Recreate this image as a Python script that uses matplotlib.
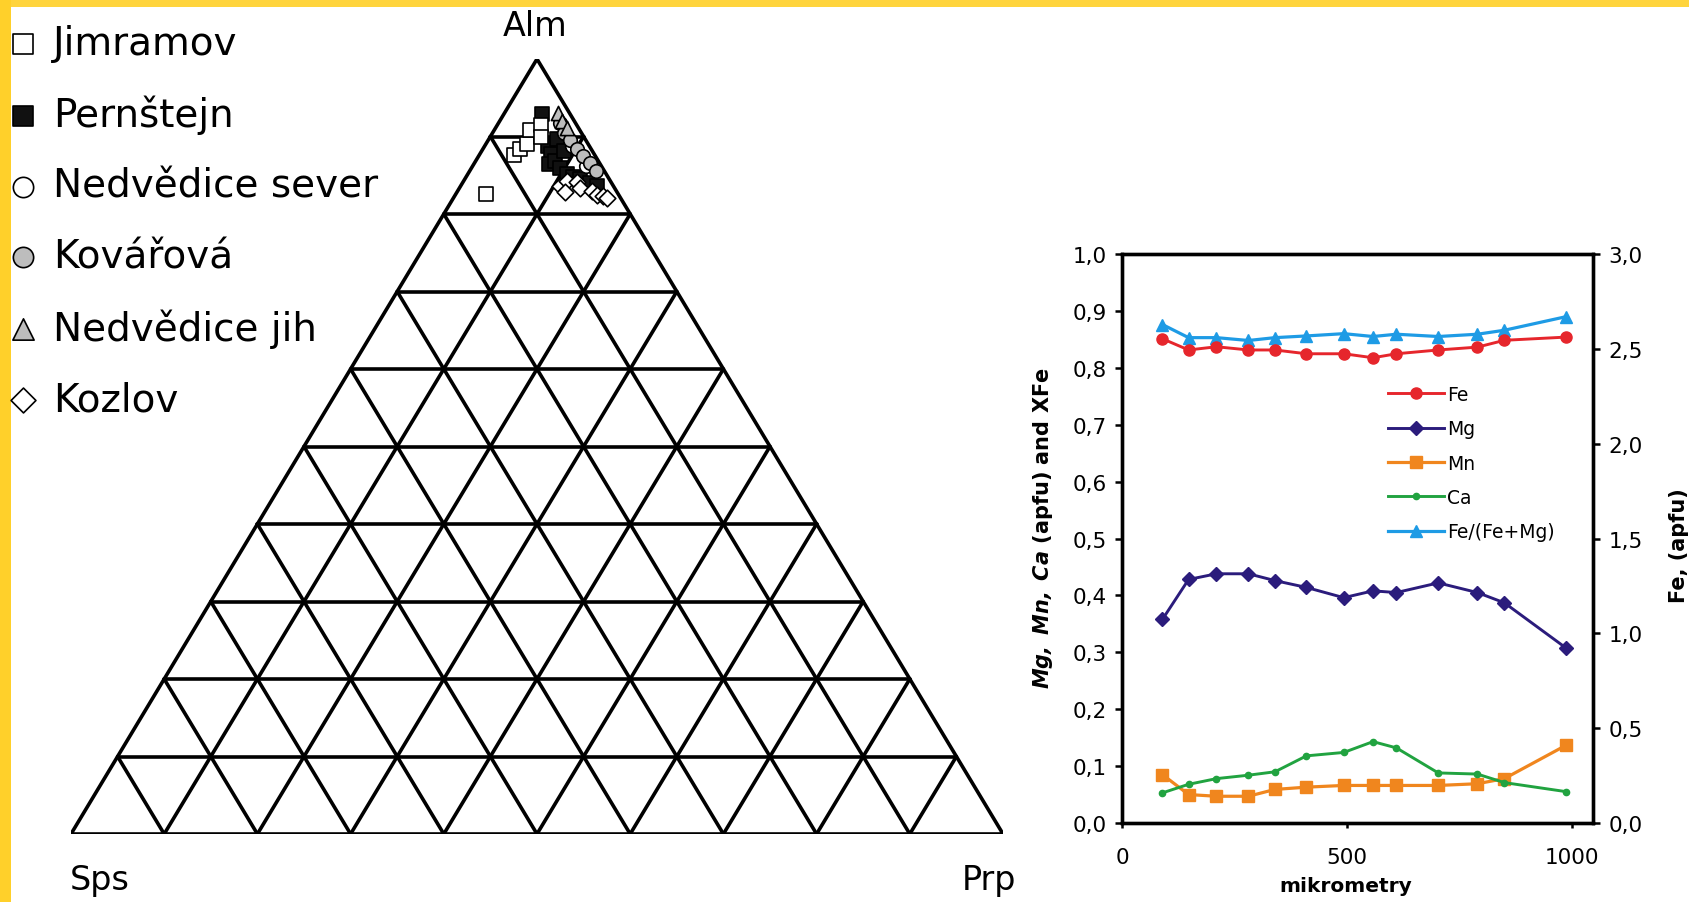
import matplotlib
matplotlib.use('Agg')
import matplotlib.pyplot as plt
from matplotlib.ticker import FuncFormatter, FixedLocator
from matplotlib.patches import Rectangle

plt.rcParams['font.family'] = ['DejaVu Sans']

# ---------------- Ternary data (mol. %) ----------------
jim_alm = [82.6, 87.6, 88.4, 89.0, 90.8, 91.5, 89.9]
jim_prp = [3.2, 3.7, 4.0, 4.4, 3.9, 4.7, 5.5]
jim_sps = [14.2, 8.7, 7.6, 6.6, 5.3, 3.8, 4.6]

per_alm = [92.9, 88.8, 87.7, 86.5, 86.8, 89.7, 85.9, 85.2, 84.8, 84.5, 84.0, 83.6, 88.1]
per_prp = [4.1, 6.8, 7.7, 8.0, 8.5, 7.3, 9.5, 10.6, 11.5, 12.4, 13.7, 14.6, 8.9]
per_sps = [3.0, 4.4, 4.6, 5.5, 4.7, 3.0, 4.6, 4.2, 3.7, 3.1, 2.3, 1.8, 3.0]

nsev_alm = [88.8, 86.2]
nsev_prp = [9.4, 12.2]
nsev_sps = [1.8, 1.6]

kov_alm = [91.7, 90.5, 89.5, 88.4, 87.5, 86.6, 85.6]
kov_prp = [6.6, 7.6, 8.8, 10.1, 11.2, 12.4, 13.5]
kov_sps = [1.7, 1.9, 1.7, 1.5, 1.3, 1.0, 0.9]

njih_alm = [93.0, 92.0, 91.1]
njih_prp = [5.8, 6.7, 7.7]
njih_sps = [1.2, 1.3, 1.2]

koz_alm = [83.6, 84.3, 82.8, 84.1, 83.4, 83.0, 82.5, 82.3, 82.1]
koz_prp = [10.7, 11.1, 11.6, 12.2, 12.9, 14.4, 15.2, 15.9, 16.5]
koz_sps = [5.7, 4.6, 5.6, 3.7, 3.7, 2.6, 2.3, 1.8, 1.4]

locality_labels = ["Jimramov", "Pernštejn", "Nedvědice sever", "Kovářová",
                   "Nedvědice jih", "Kozlov"]
corner_labels = ["Alm", "Sps", "Prp"]

# ---------------- Profile data ----------------
dist_um = [90, 148, 210, 281, 340, 410, 493, 558, 610, 703, 790, 850, 988]
fe_apfu = [2.553, 2.494, 2.511, 2.494, 2.494, 2.474, 2.474, 2.453, 2.474, 2.494, 2.509, 2.545, 2.562]
mg_apfu = [0.358, 0.428, 0.438, 0.438, 0.426, 0.414, 0.396, 0.408, 0.405, 0.422, 0.405, 0.387, 0.307]
mn_apfu = [0.085, 0.050, 0.047, 0.047, 0.059, 0.063, 0.066, 0.066, 0.066, 0.066, 0.069, 0.078, 0.137]
ca_apfu = [0.053, 0.068, 0.078, 0.084, 0.090, 0.118, 0.124, 0.143, 0.132, 0.088, 0.086, 0.071, 0.055]
xfe = [0.876, 0.853, 0.853, 0.848, 0.853, 0.856, 0.860, 0.855, 0.859, 0.855, 0.859, 0.866, 0.890]

profile_labels = ["Fe", "Mg", "Mn", "Ca", "Fe/(Fe+Mg)"]
left_ticks = [0.0, 0.1, 0.2, 0.3, 0.4, 0.5, 0.6, 0.7, 0.8, 0.9, 1.0]
right_ticks = [0.0, 0.5, 1.0, 1.5, 2.0, 2.5, 3.0]
x_ticks = [0, 500, 1000]

W, H = 1689, 903
fig = plt.figure(figsize=(W / 100, H / 100), dpi=100)
fig.patch.set_facecolor('white')

# yellow frame strips
fig.patches.append(Rectangle((0, 1 - 8 / H), 1, 8 / H, transform=fig.transFigure,
                             facecolor='#FFD43C', edgecolor='none', zorder=0))
fig.patches.append(Rectangle((0, 0), 11 / W, 1, transform=fig.transFigure,
                             facecolor='#FFD02A', edgecolor='none', zorder=0))

# ---------------- Ternary diagram ----------------
axt = fig.add_axes([71 / W, 1 - 835 / H, 932 / W, 775 / H])
axt.set_xlim(0, 1)
axt.set_ylim(0, 1)
axt.axis('off')


def tern(alm, prp, sps):
    xs, ys = [], []
    for a, p, s in zip(alm, prp, sps):
        t = a + p + s
        xs.append(p / t + 0.5 * a / t)
        ys.append(a / t)
    return xs, ys


lw = 2.6
n = 10
for i in range(n + 1):
    f = i / n
    x0, y0 = tern([f * 100], [0], [100 - f * 100])
    x1, y1 = tern([f * 100], [100 - f * 100], [0])
    axt.plot([x0[0], x1[0]], [y0[0], y1[0]], color='black', lw=lw, solid_capstyle='round', zorder=1)
    x0, y0 = tern([0], [f * 100], [100 - f * 100])
    x1, y1 = tern([100 - f * 100], [f * 100], [0])
    axt.plot([x0[0], x1[0]], [y0[0], y1[0]], color='black', lw=lw, solid_capstyle='round', zorder=1)
    x0, y0 = tern([0], [100 - f * 100], [f * 100])
    x1, y1 = tern([100 - f * 100], [0], [f * 100])
    axt.plot([x0[0], x1[0]], [y0[0], y1[0]], color='black', lw=lw, solid_capstyle='round', zorder=1)

ms = 95
h = []
x, y = tern(jim_alm, jim_prp, jim_sps)
h.append(axt.scatter(x, y, s=ms, marker='s', facecolor='white', edgecolor='black',
                     linewidth=1.2, zorder=4, clip_on=False, label=locality_labels[0]))
x, y = tern(per_alm, per_prp, per_sps)
h.append(axt.scatter(x, y, s=ms, marker='s', facecolor='#111111', edgecolor='black',
                     linewidth=1.2, zorder=3, clip_on=False, label=locality_labels[1]))
x, y = tern(nsev_alm, nsev_prp, nsev_sps)
h.append(axt.scatter(x, y, s=ms, marker='o', facecolor='white', edgecolor='black',
                     linewidth=1.2, zorder=3.5, clip_on=False, label=locality_labels[2]))
x, y = tern(kov_alm, kov_prp, kov_sps)
h.append(axt.scatter(x, y, s=ms, marker='o', facecolor='#BDBDBD', edgecolor='black',
                     linewidth=1.2, zorder=5, clip_on=False, label=locality_labels[3]))
x, y = tern(njih_alm, njih_prp, njih_sps)
h.append(axt.scatter(x, y, s=ms * 1.1, marker='^', facecolor='#BDBDBD', edgecolor='black',
                     linewidth=1.2, zorder=6, clip_on=False, label=locality_labels[4]))
x, y = tern(koz_alm, koz_prp, koz_sps)
h.append(axt.scatter(x, y, s=ms * 0.75, marker='D', facecolor='white', edgecolor='black',
                     linewidth=1.2, zorder=4.5, clip_on=False, label=locality_labels[5]))

fig.text(535 / W, 1 - 26 / H, corner_labels[0], ha='center', va='center', fontsize=24)
fig.text(100 / W, 1 - 881 / H, corner_labels[1], ha='center', va='center', fontsize=24)
fig.text(989 / W, 1 - 881 / H, corner_labels[2], ha='center', va='center', fontsize=24)

leg1 = fig.legend(handles=h, loc='upper left', bbox_to_anchor=(6 / W, 1 - 25 / H),
                  frameon=False, fontsize=28, handlelength=0.85, handletextpad=0.35,
                  labelspacing=0.84, borderpad=0, borderaxespad=0, markerscale=1.5,
                  scatterpoints=1)

# ---------------- Profile chart ----------------
ax = fig.add_axes([1122 / W, 1 - 824 / H, (1593 - 1122) / W, (824 - 255) / H])
ax2 = ax.twinx()

l_mg, = ax.plot(dist_um, mg_apfu, color='#2B1C7C', lw=2.1, marker='D', ms=7, zorder=3)
l_mn, = ax.plot(dist_um, mn_apfu, color='#F0861E', lw=2.3, marker='s', ms=8, zorder=3)
l_ca, = ax.plot(dist_um, ca_apfu, color='#21A340', lw=2.1, marker='o', ms=4.5, zorder=3)
l_xfe, = ax.plot(dist_um, xfe, color='#1E9BE5', lw=2.3, marker='^', ms=9, zorder=3)
l_fe, = ax2.plot(dist_um, fe_apfu, color='#E6262C', lw=2.1, marker='o', ms=8, zorder=3)

ax.set_xlim(0, 1047)
ax.set_ylim(0, 1.0)
ax2.set_ylim(0, 3.0)

comma = FuncFormatter(lambda v, p: f"{v:.1f}".replace('.', ','))
ax.yaxis.set_major_locator(FixedLocator(left_ticks))
ax.yaxis.set_major_formatter(comma)
ax2.yaxis.set_major_locator(FixedLocator(right_ticks))
ax2.yaxis.set_major_formatter(comma)
ax.xaxis.set_major_locator(FixedLocator(x_ticks))

for sp in ax.spines.values():
    sp.set_linewidth(2.4)
for sp in ax2.spines.values():
    sp.set_linewidth(2.4)

ax.tick_params(axis='y', direction='out', length=5, width=1.8, labelsize=15.5, pad=6)
ax.tick_params(axis='x', direction='out', length=3.5, width=1.8, labelsize=15.5, pad=14)
ax2.tick_params(axis='y', direction='out', length=5, width=1.8, labelsize=15.5, pad=6)

ax.set_xlabel("mikrometry", fontsize=14.5, fontweight='bold')
ax.xaxis.set_label_coords(0.475, -0.093)
ax.set_ylabel(r"$\mathbfit{Mg,\ Mn,\ Ca}$ (apfu) and XFe", fontsize=15, fontweight='bold')
ax.yaxis.set_label_coords(-0.142, 0.52)
ax2.set_ylabel("Fe, (apfu)", fontsize=15, fontweight='bold', rotation=90)
ax2.yaxis.set_label_coords(1.161, 0.49)

leg2 = ax2.legend([l_fe, l_mg, l_mn, l_ca, l_xfe], profile_labels,
                  loc='upper left', bbox_to_anchor=(0.565, 0.77), frameon=False,
                  fontsize=13.5, handlelength=3.0, handletextpad=0.15,
                  labelspacing=0.82, borderpad=0, borderaxespad=0)

fig.savefig('out.png', dpi=100, facecolor='white')
